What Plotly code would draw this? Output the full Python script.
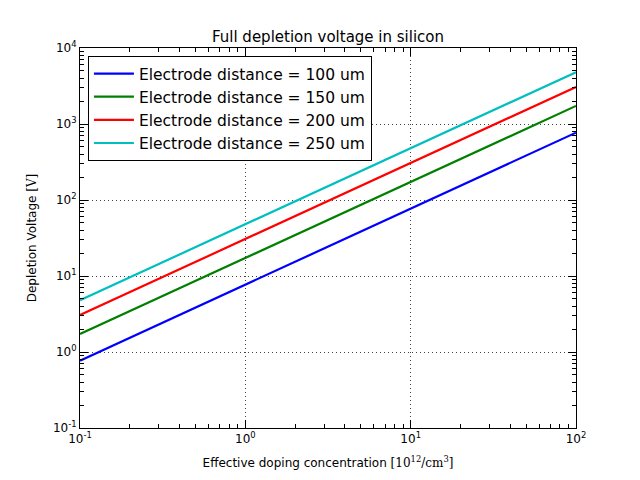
import plotly.graph_objects as go

# Data (straight lines on log-log axes, endpoints)
doping = [0.1, 100.0]
labels = ["Electrode distance = 100 um", "Electrode distance = 150 um",
          "Electrode distance = 200 um", "Electrode distance = 250 um"]
v100 = [0.77, 770.0]
v150 = [1.73, 1730.0]
v200 = [3.07, 3070.0]
v250 = [4.8, 4800.0]
series = [v100, v150, v200, v250]
colors = ["#0000ff", "#008000", "#ff0000", "#00bfbf"]

xtickvals = [0.1, 1, 10, 100]
xticktext = ["10<sup>-1</sup>", "10<sup>0</sup>", "10<sup>1</sup>", "10<sup>2</sup>"]
ytickvals = [0.1, 1, 10, 100, 1000, 10000]
yticktext = ["10<sup>-1</sup>", "10<sup>0</sup>", "10<sup>1</sup>", "10<sup>2</sup>",
             "10<sup>3</sup>", "10<sup>4</sup>"]

def minor_vals(decades):
    return [m * d for d in decades for m in range(2, 10)]

fig = go.Figure()
for lab, ys, c in zip(labels, series, colors):
    fig.add_trace(go.Scatter(x=doping, y=ys, mode="lines", name=lab,
                             line=dict(color=c, width=2.2)))

font = "DejaVu Sans"

def ax(minor_ticks):
    return dict(type="log", showline=True, linecolor="black", linewidth=1,
                mirror="allticks", ticks="inside", ticklen=8, tickcolor="black",
                showgrid=True, gridcolor="#444444", griddash="1px,3px", gridwidth=0.7,
                zeroline=False,
                minor=dict(ticks="inside", ticklen=4, tickcolor="black", showgrid=False,
                           tickmode="array", tickvals=minor_ticks),
                tickfont=dict(family=font, size=12, color="black"))

fig.update_layout(
    width=640, height=480,
    margin=dict(l=80, r=64, t=48, b=48),
    paper_bgcolor="white", plot_bgcolor="white",
    title=dict(text="Full depletion voltage in silicon", x=0.5125, xanchor="center",
               y=0.923, yanchor="middle", font=dict(family=font, size=15, color="black")),
    xaxis=dict(range=[-1, 2], tickmode="array", tickvals=xtickvals, ticktext=xticktext,
               title=dict(text="Effective doping concentration <span style=\"font-family:'DejaVu Serif'\">[10<sup>12</sup>/cm<sup>3</sup>]</span>",
                          font=dict(family=font, size=12, color="black"), standoff=13),
               **ax(minor_vals([0.1, 1, 10]))),
    yaxis=dict(range=[-1, 4], tickmode="array", tickvals=ytickvals, ticktext=yticktext,
               title=dict(text="Depletion Voltage <span style=\"font-family:'DejaVu Serif'\">[V]</span>",
                          font=dict(family=font, size=12, color="black"), standoff=13),
               **ax(minor_vals([0.1, 1, 10, 100, 1000]))),
    legend=dict(x=0.016, y=0.979, xanchor="left", yanchor="top",
                bordercolor="black", borderwidth=1, bgcolor="white",
                font=dict(family=font, size=15.5, color="black"),
                itemwidth=40, tracegroupgap=0),
    showlegend=True,
)

fig.write_html("out.html")
